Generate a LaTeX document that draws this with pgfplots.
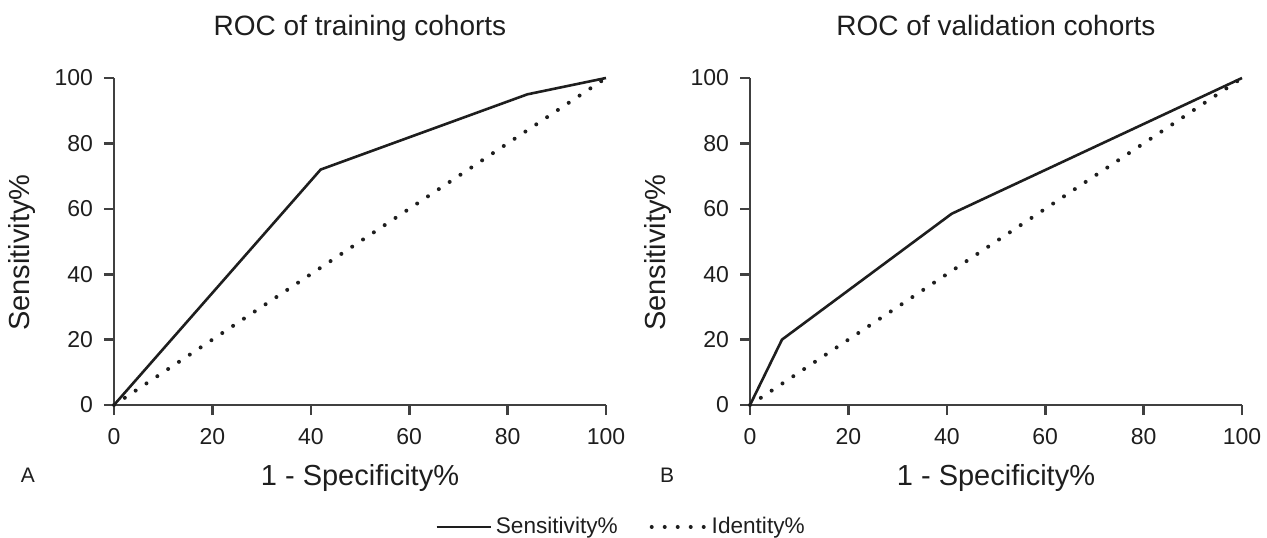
\documentclass[border=0pt]{standalone}
\usepackage{fontspec}
\setmainfont{Liberation Sans}
\usepackage{pgfplots}
\pgfplotsset{compat=1.18}
\definecolor{ink}{HTML}{1E1E1E}

\pgfplotsset{
  roc/.style={
    scale only axis,
    width=246pt, height=163.5pt,
    xmin=0, xmax=100, ymin=0, ymax=100,
    xtick={0,20,...,100}, ytick={0,20,...,100},
    axis lines=left,
    axis line style={-, line width=1.3pt, ink!85},
    every tick/.style={line width=1.3pt, ink!85},
    tick align=outside,
    major tick length=5pt,
    /pgf/number format/assume math mode=true,
    tick label style={font=\fontsize{11.5}{13}\selectfont, text=ink},
    xticklabel style={yshift=-3pt},
    yticklabel style={xshift=-2pt},
    label style={font=\fontsize{14.5}{16}\selectfont, text=ink},
    title style={font=\fontsize{14}{16}\selectfont, text=ink, anchor=center,
      text height=0.75em, text depth=0.22em, at={(axis description cs:0.5,1.110)}},
    xlabel style={anchor=center, at={(axis description cs:0.5,-0.2232)}},
    ylabel style={anchor=center, at={(axis description cs:-0.187,0.466)}},
    xlabel={1 - Specificity\%},
    ylabel={Sensitivity\%},
    clip=false,
  },
  sens/.style={ink, line width=1.3pt},
  ident/.style={ink, line width=2pt, line cap=round, dash pattern=on 0pt off 6.5pt},
}

\begin{document}
\begin{tikzpicture}
\path[use as bounding box] (0,0) rectangle (633.5pt,268.5pt);

\begin{axis}[roc,
  at={(57pt,66pt)}, anchor=south west,
  title={ROC of training cohorts},
  legend columns=2,
  legend style={at={(axis description cs:1.0325,-0.373)}, anchor=center, draw=none, fill=none,
    font=\fontsize{11.3}{13}\selectfont, text=ink,
    /tikz/every even column/.append style={column sep=14pt}},
  legend image code/.code={\draw[#1] (0pt,0pt) -- (27pt,0pt);},
]
\addplot[sens] coordinates {(0,0) (42,72) (84,95) (100,100)};
\addlegendentry{Sensitivity\%}
\addplot[ident] coordinates {(0,0) (100,100)};
\addlegendentry{Identity\%}
\end{axis}

\begin{axis}[roc,
  at={(375pt,66pt)}, anchor=south west,
  title={ROC of validation cohorts},
]
\addplot[sens] coordinates {(0,0) (6.5,20) (41,58.5) (100,100)};
\addplot[ident] coordinates {(0,0) (100,100)};
\end{axis}

\node[font=\fontsize{10.5}{12}\selectfont, text=ink] at (14pt,31pt) {A};
\node[font=\fontsize{10.5}{12}\selectfont, text=ink] at (333.5pt,31pt) {B};
\end{tikzpicture}
\end{document}
